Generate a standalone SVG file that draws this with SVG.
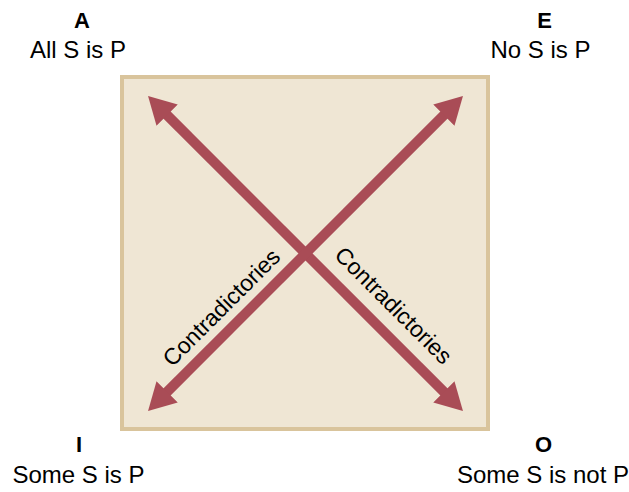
<svg xmlns="http://www.w3.org/2000/svg" width="629" height="492" viewBox="0 0 629 492">
<style>
.lbl{font-family:"Liberation Sans",Arial,sans-serif;font-size:24px;fill:#000;text-anchor:middle}
.b{font-weight:bold;font-size:22px}
.arr{stroke:#a94c56;stroke-width:10;fill:none}
.ct{font-family:"Liberation Sans",Arial,sans-serif;font-size:23px;fill:#000;text-anchor:middle}
</style>
<defs>
<marker id="head" markerUnits="userSpaceOnUse" viewBox="0 -16 28 32" markerWidth="28" markerHeight="32" refX="5" refY="0" orient="auto-start-reverse">
<path d="M0,-15 L27,0 L0,15 z" fill="#a94c56"/>
</marker>
</defs>
<g id="square">
<rect x="122" y="77" width="366" height="352" fill="#efe6d4" stroke="#d9c49c" stroke-width="4"/>
</g>
<g id="connectors">
<line class="arr" x1="163.6" y1="111.6" x2="447.4" y2="395.4" marker-start="url(#head)" marker-end="url(#head)"/>
<line class="arr" x1="447.4" y1="111.6" x2="163.6" y2="395.4" marker-start="url(#head)" marker-end="url(#head)"/>
<text class="ct" transform="translate(227,313) rotate(-45)">Contradictories</text>
<text class="ct" transform="translate(388,311) rotate(45)">Contradictories</text>
</g>
<g id="A">
<text class="lbl b" x="82" y="28">A</text>
<text class="lbl" x="78" y="58">All S is P</text>
</g>
<g id="E">
<text class="lbl b" x="544.5" y="28">E</text>
<text class="lbl" x="540.5" y="58">No S is P</text>
</g>
<g id="I">
<text class="lbl b" x="79" y="452">I</text>
<text class="lbl" x="78.5" y="483">Some S is P</text>
</g>
<g id="O">
<text class="lbl b" x="543.5" y="452">O</text>
<text class="lbl" x="543" y="483">Some S is not P</text>
</g>
</svg>
